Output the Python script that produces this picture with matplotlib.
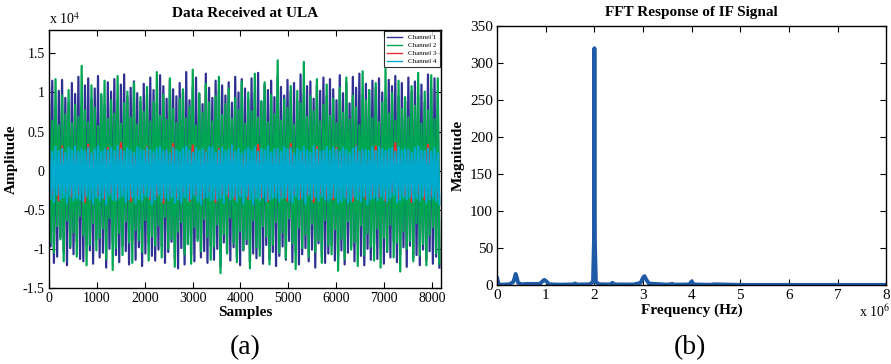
import numpy as np
import matplotlib.pyplot as plt
from matplotlib.ticker import FuncFormatter

plt.rcParams['font.family'] = ['Liberation Serif', 'DejaVu Serif']
plt.rcParams['mathtext.fontset'] = 'stix'
plt.rcParams['path.simplify'] = False  # ジグザグが間引かれないように

# 受信データ (単位: 100, 上下のピークを交互に並べたもの)
ch1 = [108, -97, 115, -118, 79, -110, 102, -85, 116, -104, 93, -121, 87, -99, 112, -107, 98, -90, 120, -113,
       84, -116, 109, -95, 118, -102, 91, -119, 105, -88, 121, -111, 96, -105, 83, -124, 113, -100, 101, -92,
       117, -108, 89, -117, 110, -96, 123, -103, 94, -120, 106, -89, 114, -114, 99, -98, 88, -122, 111, -106,
       97, -93, 119, -109, 103, -115, 86, -101, 122, -97, 108, -118, 92, -104, 116, -91, 104, -112, 95, -125,
       112, -99, 100, -120, 126, -94, 90, -108, 107, -116, 119, -87, 98, -111, 85, -103, 124, -118, 106, -96,
       93, -114, 115, -100, 102, -123, 109, -92, 96, -105, 113, -115, 87, -98, 120, -110, 100, -121, 117, -102,
       105, -94, 91, -117, 118, -106, 99, -112, 125, -100, 88, -119, 110, -95, 103, -113, 115, -104, 94, -122,
       121, -109, 107, -97, 96, -114, 116, -90, 101, -117, 112, -103, 89, -120, 123, -107, 98, -99, 108, -116,
       114, -101, 92, -124, 109, -93, 102, -110, 119, -118, 95, -106, 117, -96, 104, -115, 90, -111, 122, -102,
       99, -120, 113, -105, 86, -97, 120, -116, 106, -92, 124, -109, 97, -121, 111, -100, 103, -114, 115, -94,
       106, -113, 118, -99, 100, -119, 93, -104, 116, -111, 108, -90, 121, -117, 95, -107, 112, -98, 88, -123,
       119, -96, 101, -112, 114, -108, 97, -121, 110, -101, 87, -115, 123, -103, 105, -119, 118, -110, 102, -124]

ch2 = [88, -92, 64, -105, 117, -71, 58, -88, 96, -116, 72, -64, 103, -97, 61, -79, 84, -110, 69, -58,
       134, -83, 77, -121, 62, -95, 109, -67, 81, -102, 57, -86, 98, -74, 115, -113, 66, -61, 90, -127,
       73, -99, 121, -80, 60, -108, 86, -65, 101, -92, 68, -118, 112, -76, 59, -89, 94, -104, 75, -63,
       107, -115, 63, -84, 88, -96, 126, -70, 70, -111, 97, -59, 65, -100, 118, -87, 79, -123, 61, -78,
       92, -66, 104, -107, 67, -94, 82, -119, 129, -72, 58, -90, 99, -103, 74, -62, 111, -85, 87, -114,
       63, -97, 95, -69, 120, -131, 71, -81, 85, -106, 105, -60, 66, -93, 93, -117, 78, -77, 114, -101,
       60, -88, 100, -125, 76, -64, 124, -98, 68, -109, 89, -71, 113, -84, 62, -120, 97, -95, 72, -66,
       141, -105, 64, -79, 91, -112, 80, -61, 108, -93, 59, -126, 102, -73, 86, -99, 139, -82, 69, -110,
       95, -68, 76, -104, 117, -89, 63, -118, 84, -63, 110, -96, 70, -107, 92, -75, 61, -128, 106, -87,
       74, -113, 119, -65, 65, -101, 96, -91, 81, -122, 58, -70, 127, -108, 90, -80, 103, -97, 67, -115,
       112, -74, 62, -124, 87, -86, 130, -103, 73, -69, 99, -111, 64, -92, 115, -129, 79, -78, 94, -100,
       68, -90, 108, -116, 83, -67, 125, -109, 60, -94, 101, -121, 77, -83, 122, -72, 66, -106, 118, -119]

ch3 = [21, -30, 17, -38, 31, -26, 19, -33, 24, -29, 16, -40, 33, -27, 22, -31, 18, -36, 29, -28,
       20, -34, 35, -25, 18, -39, 23, -30, 17, -28, 30, -37, 21, -32, 19, -41, 26, -29, 34, -33,
       18, -27, 22, -38, 32, -31, 16, -35, 25, -26, 20, -40, 28, -30, 17, -33, 31, -37, 19, -29,
       23, -36, 17, -28, 33, -34, 21, -39, 18, -27, 27, -32, 20, -38, 34, -30, 16, -35, 24, -31,
       19, -40, 30, -29, 22, -33, 17, -37, 29, -28, 21, -34, 18, -39, 32, -26, 25, -36, 20, -30,
       31, -33, 18, -38, 23, -27, 35, -35, 19, -31, 26, -40, 17, -29, 22, -37, 33, -32, 18, -34]

ch4 = [27, -36, 24, -40, 30, -31, 25, -37, 28, -34, 23, -41, 29, -33, 26, -38, 31, -35, 24, -37,
       28, -39, 25, -33, 29, -37, 22, -42, 27, -34, 31, -38, 24, -35, 28, -43, 26, -31, 29, -37,
       25, -38, 32, -35, 27, -33, 24, -40, 29, -37, 26, -34, 23, -41, 30, -36, 27, -38, 25, -32,
       29, -34, 26, -43, 24, -37, 28, -31, 30, -39, 25, -35, 27, -38, 22, -34, 29, -41, 26, -37,
       24, -41, 28, -34, 31, -38, 26, -36, 23, -32, 29, -39, 25, -43, 28, -35, 24, -34, 30, -38,
       30, -37, 23, -38, 26, -35, 29, -41, 25, -31, 27, -37, 32, -34, 24, -39, 28, -33, 22, -42,
       26, -33, 29, -37, 25, -43, 30, -35, 24, -38, 28, -34, 26, -39, 31, -37, 23, -35, 27, -34,
       28, -39, 24, -35, 30, -34, 27, -38, 29, -41, 22, -33, 28, -37, 25, -35, 30, -42, 26, -31,
       23, -37, 31, -34, 27, -39, 24, -33, 26, -37, 30, -38, 25, -35, 29, -34, 27, -41, 24, -39,
       29, -35, 26, -41, 22, -38, 28, -34, 31, -37, 24, -39, 27, -33, 26, -43, 25, -37, 30, -35,
       25, -38, 30, -33, 28, -37, 25, -39, 27, -35, 29, -31, 24, -41, 30, -38, 26, -34, 28, -37,
       27, -34, 23, -39, 29, -35, 31, -38, 26, -33, 25, -41, 28, -37, 24, -35, 29, -39, 22, -43]

channels = [ch1, ch2, ch3, ch4]
ch_names = ['Channel 1', 'Channel 2', 'Channel 3', 'Channel 4']
ch_colors = ['#2E3192', '#00A651', '#ED2F2F', '#00AACF']
n_samples = 8192

# FFT スペクトル (周波数 MHz, 振幅)
freq_mhz = [0, 0.01, 0.03, 0.08, 0.25, 0.33, 0.36, 0.38, 0.40, 0.43, 0.50, 0.62, 0.88, 0.93, 0.97,
            1.01, 1.07, 1.3, 1.55, 1.6, 1.65, 1.9, 1.97, 1.99, 2.0, 2.01, 2.03, 2.1, 2.33, 2.37,
            2.41, 2.8, 2.95, 3.0, 3.03, 3.06, 3.12, 3.5, 3.6, 3.65, 3.95, 4.0, 4.04, 4.4, 4.45,
            5.0, 8.0]
magnitude = [10, 6, 1, 0.5, 1, 4, 10, 15, 11, 3, 1, 1.5, 1.5, 5, 7,
             5, 1, 0.5, 0.8, 2, 0.7, 1, 4, 60, 320, 60, 4, 1, 0.8, 3,
             0.8, 0.7, 3, 10, 12, 8, 2, 0.5, 1.5, 0.5, 0.8, 5, 0.8, 0.3, 1,
             0.2, 0.2]

fig = plt.figure(figsize=(8.91, 3.64), dpi=100)

# (a) 受信データ
ax1 = fig.add_axes([0.055, 0.209, 0.44, 0.709])
for ch, name, col in zip(channels, ch_names, ch_colors):
    vals = np.array(ch) * 100.0
    xs = np.arange(len(vals)) * n_samples / len(vals)
    ax1.plot(xs, vals, color=col, lw=1.6, label=name)
ax1.set_xlim(0, n_samples)
ax1.set_ylim(-15000, 18000)
ax1.set_xticks(np.arange(0, 8001, 1000))
ax1.set_yticks(np.arange(-15000, 15001, 5000))
ax1.yaxis.set_major_formatter(FuncFormatter(lambda v, p: f'{v / 1e4:g}'))
ax1.set_title('Data Received at ULA', fontsize=11, fontweight='bold', pad=9)
ax1.set_xlabel('Samples', fontsize=11, fontweight='bold', labelpad=1)
ax1.set_ylabel('Amplitude', fontsize=11, fontweight='bold', labelpad=4)
ax1.text(0, 1.012, 'x 10$^{4}$', transform=ax1.transAxes, fontsize=10, va='bottom', ha='left')
leg = ax1.legend(loc='upper right', fontsize=5, frameon=True, fancybox=False, edgecolor='black',
                 handlelength=2.2, labelspacing=0.3, borderpad=0.45, borderaxespad=0.2)
leg.get_frame().set_linewidth(0.8)
for lh in leg.get_lines():
    lh.set_linewidth(1.0)

# (b) FFT
ax2 = fig.add_axes([0.558, 0.217, 0.4366, 0.7115])
ax2.plot(np.array(freq_mhz) * 1e6, magnitude, color='#1F5AA6', lw=2.8,
         solid_joinstyle='round', solid_capstyle='round')
ax2.set_xlim(0, 8e6)
ax2.set_ylim(0, 350)
ax2.set_xticks(np.arange(0, 8.01e6, 1e6))
ax2.set_yticks(np.arange(0, 351, 50))
ax2.xaxis.set_major_formatter(FuncFormatter(lambda v, p: f'{v / 1e6:g}'))
ax2.set_title('FFT Response of IF Signal', fontsize=11, fontweight='bold', pad=7)
ax2.set_xlabel('Frequency (Hz)', fontsize=11, fontweight='bold', labelpad=1)
ax2.set_ylabel('Magnitude', fontsize=11, fontweight='bold', labelpad=4)
ax2.text(1.01, -0.07, 'x 10$^{6}$', transform=ax2.transAxes, fontsize=10, va='top', ha='right')

for ax, fs in [(ax1, 10), (ax2, 11)]:
    ax.tick_params(direction='in', top=True, right=True, labelsize=fs, length=4, width=0.8, pad=3)
    for s in ax.spines.values():
        s.set_linewidth(1.0)

fig.text(0.275, 0.045, '(a)', fontsize=20, ha='center', va='center')
fig.text(0.774, 0.045, '(b)', fontsize=20, ha='center', va='center')

fig.savefig('out.png', dpi=100)
